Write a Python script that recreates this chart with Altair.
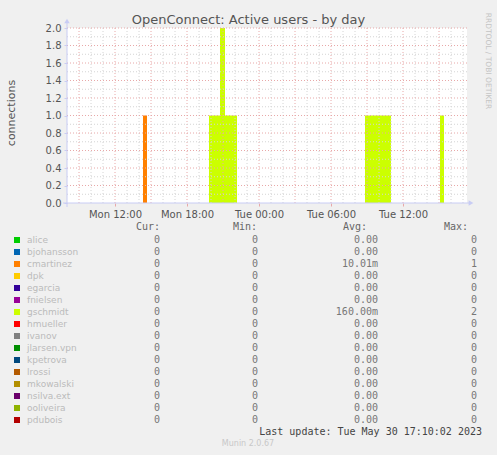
import altair as alt
import pandas as pd
import numpy as np

# ---------------- data ----------------
TITLE = "OpenConnect: Active users - by day"
Y_TITLE = "connections"
BASE = pd.Timestamp("2023-05-29 00:00")           # Monday 00:00
X_START = 8.0                                      # Mon 08:00
X_END = 8.0 + 400 * 5 / 60                         # 400 px x 5 min

tick_hours = [12, 18, 24, 30, 36]
y_ticks = [0.0, 0.2, 0.4, 0.6, 0.8, 1.0, 1.2, 1.4, 1.6, 1.8, 2.0]

# non-zero segments (series index, start, end, value)
seg_series = [2, 6, 6, 6, 6, 6]
seg_start = ["2023-05-29 14:20", "2023-05-29 19:50", "2023-05-29 20:45",
             "2023-05-29 21:10", "2023-05-30 08:50", "2023-05-30 15:05"]
seg_end = ["2023-05-29 14:40", "2023-05-29 20:45", "2023-05-29 21:10",
           "2023-05-29 22:10", "2023-05-30 11:00", "2023-05-30 15:25"]
seg_value = [1, 1, 2, 1, 1, 1]

series_names = ["alice", "bjohansson", "cmartinez", "dpk", "egarcia", "fnielsen",
                "gschmidt", "hmueller", "ivanov", "jlarsen.vpn", "kpetrova",
                "lrossi", "mkowalski", "nsilva.ext", "ooliveira", "pdubois"]
series_colors = ["#00CC00", "#0066B3", "#FF8000", "#FFCC00", "#330099", "#990099",
                 "#CCFF00", "#FF0000", "#808080", "#008F00", "#00487D", "#B35A00",
                 "#B38F00", "#6B006B", "#8FB300", "#B30000"]
cur_vals = ["0"] * 16
min_vals = ["0"] * 16
avg_vals = ["0.00", "0.00", "10.01m", "0.00", "0.00", "0.00", "160.00m", "0.00",
            "0.00", "0.00", "0.00", "0.00", "0.00", "0.00", "0.00", "0.00"]
max_vals = ["0", "0", "1", "0", "0", "0", "2", "0", "0", "0", "0", "0", "0", "0", "0", "0"]

LAST_UPDATE = "Last update: Tue May 30 17:10:02 2023"
MUNIN = "Munin 2.0.67"
RRD = "RRDTOOL / TOBI OETIKER"

# ---------------- frames ----------------
def hrs(s):
    return (pd.Timestamp(s) - BASE) / pd.Timedelta(hours=1)

seg = pd.DataFrame({
    "start": [hrs(s) for s in seg_start],
    "end": [hrs(s) for s in seg_end],
    "value": seg_value,
    "color": [series_colors[i] for i in seg_series],
})

vgrid_h = list(range(9, 42))
vgrid = pd.DataFrame({"h": vgrid_h,
                      "c": ["#E8A8A8" if h % 3 == 0 else "#D4D4D4" for h in vgrid_h]})
hgrid_v = [round(0.1 * k, 1) for k in range(1, 21)]
hgrid = pd.DataFrame({"v": hgrid_v,
                      "c": ["#E8A8A8" if k % 2 == 0 else "#D4D4D4" for k in range(1, 21)]})

legend_df = pd.DataFrame({
    "row": list(range(16)),
    "name": series_names,
    "color": series_colors,
    "cur": cur_vals, "min": min_vals, "avg": avg_vals, "max": max_vals,
})

FONT = "DejaVu Sans"
MONO = "DejaVu Sans Mono"
AXIS_COL = "#C8CCF4"

xscale = alt.Scale(domain=[X_START, X_END], nice=False, zero=False)
yscale = alt.Scale(domain=[0, 2], nice=False)

label_expr = ("(datum.value < 24 ? 'Mon ' : 'Tue ') + "
              "((datum.value % 24) < 10 ? '0' : '') + (datum.value % 24) + ':00'")

XAXIS = alt.Axis(values=tick_hours, labelExpr=label_expr, title=None, grid=False,
                 domain=False, ticks=True, tickColor="#E8A8A8", tickSize=3,
                 labelFont=FONT, labelFontSize=10, labelColor="#555555",
                 labelPadding=3, labelOverlap=False)
YAXIS = alt.Axis(values=y_ticks, format=".1f", title=None, grid=False,
                 domain=False, ticks=True, tickColor=AXIS_COL, tickSize=3,
                 labelFont=FONT, labelFontSize=10, labelColor="#555555",
                 labelPadding=3, labelOverlap=False)

bars = alt.Chart(seg).mark_rect().encode(
    x=alt.X("start:Q", scale=xscale, axis=XAXIS),
    x2="end:Q",
    y=alt.Y("value:Q", scale=yscale, axis=YAXIS),
    y2=alt.datum(0),
    color=alt.Color("color:N", scale=None),
)

vlines = alt.Chart(vgrid).mark_rule(strokeDash=[1, 2], strokeWidth=1).encode(
    x=alt.X("h:Q", scale=xscale, axis=XAXIS), color=alt.Color("c:N", scale=None))
hlines = alt.Chart(hgrid).mark_rule(strokeDash=[1, 2], strokeWidth=1).encode(
    y=alt.Y("v:Q", scale=yscale, axis=YAXIS), color=alt.Color("c:N", scale=None))

yaxis_line = alt.Chart().mark_rule(color=AXIS_COL, strokeWidth=1).encode(
    x=alt.value(0), y=alt.value(179), y2=alt.value(-7))
xaxis_line = alt.Chart().mark_rule(color=AXIS_COL, strokeWidth=1).encode(
    y=alt.value(175), x=alt.value(-4), x2=alt.value(404))
yarrow = alt.Chart().mark_point(shape="triangle-up", filled=True, size=30,
                                color=AXIS_COL, opacity=1).encode(
    x=alt.value(0), y=alt.value(-7))
xarrow = alt.Chart().mark_point(shape="triangle-right", filled=True, size=30,
                                color=AXIS_COL, opacity=1).encode(
    x=alt.value(404), y=alt.value(175))

title_txt = alt.Chart().mark_text(font=FONT, fontSize=13, color="#555555",
                                  align="center", baseline="middle").encode(
    x=alt.value(181.5), y=alt.value(-8), text=alt.value(TITLE))
ytitle_txt = alt.Chart().mark_text(font=FONT, fontSize=11, color="#555555", angle=270,
                                   align="center", baseline="middle").encode(
    x=alt.value(-55), y=alt.value(85), text=alt.value(Y_TITLE))
rrd_txt = alt.Chart().mark_text(font=FONT, fontSize=7.5, color="#C4C4C4", angle=90,
                                align="center", baseline="middle").encode(
    x=alt.value(421), y=alt.value(33), text=alt.value(RRD))

plot = alt.layer(bars, vlines, hlines, xaxis_line, yaxis_line, xarrow, yarrow,
                 title_txt, ytitle_txt, rrd_txt)

# ---------------- legend table ----------------
rscale = alt.Scale(domain=[0, 15], range=[212, 392], nice=False, zero=False)
leg = alt.Chart(legend_df)
rowY = alt.Y("row:Q", scale=rscale, axis=None)

swatch = leg.mark_square(size=36, opacity=1).encode(
    x=alt.value(-50), y=rowY, color=alt.Color("color:N", scale=None))
names = leg.mark_text(font=FONT, fontSize=9, color="#BBBBBB", align="left",
                      baseline="middle").encode(x=alt.value(-40), y=rowY, text="name:N")

def col(field, xpos):
    return leg.mark_text(font=MONO, fontSize=10, color="#777777", align="right",
                         baseline="middle").encode(x=alt.value(xpos), y=rowY, text=f"{field}:N")

hdr_df = pd.DataFrame({"row": [-1.05] * 4, "t": ["Cur:", "Min:", "Avg:", "Max:"],
                       "x": [93, 190, 300, 401]})
headers = alt.Chart(hdr_df).mark_text(font=MONO, fontSize=10, color="#666666",
                                      align="right", baseline="middle").encode(
    x=alt.X("x:Q", scale=None), y=alt.Y("row:Q", scale=rscale, axis=None), text="t:N")

foot_df = pd.DataFrame({"row": [16.0], "t": [LAST_UPDATE]})
foot = alt.Chart(foot_df).mark_text(font=MONO, fontSize=10, color="#444444",
                                    align="right", baseline="middle").encode(
    x=alt.value(415), y=alt.Y("row:Q", scale=rscale, axis=None), text="t:N")
munin_df = pd.DataFrame({"row": [17.0], "t": [MUNIN]})
munin = alt.Chart(munin_df).mark_text(font=FONT, fontSize=8, color="#C8C8C8",
                                      align="center", baseline="middle").encode(
    x=alt.value(181), y=alt.Y("row:Q", scale=rscale, axis=None), text="t:N")

legend = alt.layer(swatch, names, col("cur", 93), col("min", 191), col("avg", 311),
                   col("max", 410), headers, foot, munin)

chart = alt.layer(plot, legend).resolve_scale(y="independent", x="independent").properties(
    width=400, height=175,
    autosize=alt.AutoSizeParams(type="none"),
    padding={"left": 67, "top": 28, "right": 30, "bottom": 252},
    background="#F0F0F0",
).configure_view(fill="white", stroke=None)

chart.save("out.html", embed_options={"renderer": "svg", "actions": False})
